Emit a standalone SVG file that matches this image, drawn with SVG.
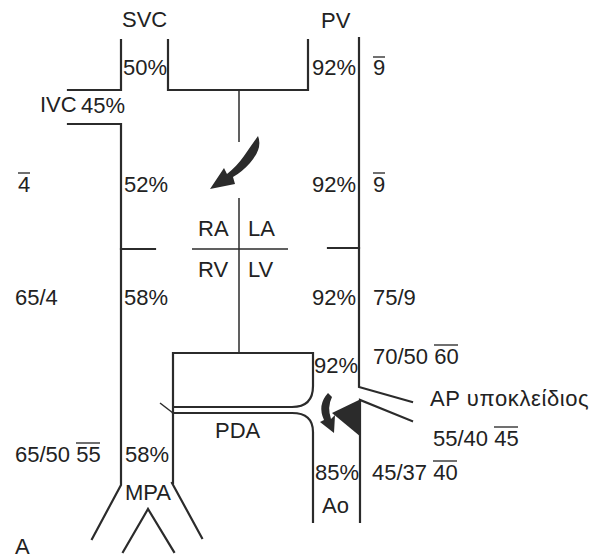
<svg xmlns="http://www.w3.org/2000/svg" width="592" height="558" viewBox="0 0 592 558">
<style>
.w{fill:none;stroke:#2b2b2b;stroke-width:2.2;stroke-linecap:square;stroke-linejoin:miter}
.t{fill:none;stroke:#2b2b2b;stroke-width:1.5}
text{font-family:"Liberation Sans",Arial,sans-serif;font-size:22px;fill:#222}
.ov{stroke:#222;stroke-width:1.3}
</style>
<rect width="592" height="558" fill="#fff"/>
<g id="connectors">
<path class="w" d="M121,40 V90 H68"/>
<path class="w" d="M68,124 H121 V485 L92,539"/>
<path class="w" d="M168,40 V90 H308 V40"/>
<path class="t" d="M239,90 V142"/>
<path class="t" d="M239,198 V352"/>
<path class="t" d="M192,249 H288"/>
<path class="w" d="M121,249 H155"/>
<path class="w" d="M328,248 H359"/>
<path class="w" d="M359,38 V387 L412,402"/>
<path class="w" d="M412,421 L360,400 V522"/>
<path fill="#2b2b2b" d="M332,413 L361,399 L361,437 Z"/>
<path class="w" d="M173,483 V353 H313 V386 Q313,407 292,407 H173"/>
<path class="w" d="M173,413 H292 Q313,413 313,432 V522"/>
<path class="t" d="M160,403 L173,413"/>
<path class="w" d="M172,483 L202,538"/>
<path class="w" d="M123,552 L148,509 L174,552"/>
<path fill="#2b2b2b" d="M258,136 Q263,148 250,163 Q242,172 233,177 L235,184 L210,189 L224,168 L227,174 Q237,166 244,156 Q251,146 258,136 Z"/>
<path fill="#2b2b2b" d="M328,393 Q317,405 324,420 L320,422 L334,433 L335,415 L331,419 Q327,407 332,397 Z"/>
</g>
<g id="labels">
<text x="122" y="27">SVC</text>
<text x="321" y="28">PV</text>
<text x="123" y="75">50%</text>
<text x="312" y="75">92%</text>
<text x="373" y="75">9</text><line class="ov" x1="373" y1="57" x2="385" y2="57"/>
<text x="40" y="112">IVC</text>
<text x="81" y="113">45%</text>
<text x="18" y="192">4</text><line class="ov" x1="18" y1="173" x2="30" y2="173"/>
<text x="124" y="192">52%</text>
<text x="312" y="192">92%</text>
<text x="373" y="192">9</text><line class="ov" x1="373" y1="173" x2="385" y2="173"/>
<text x="198" y="236">RA</text>
<text x="248" y="236">LA</text>
<text x="198" y="277">RV</text>
<text x="248" y="277">LV</text>
<text x="15" y="305">65/4</text>
<text x="124" y="305">58%</text>
<text x="312" y="305">92%</text>
<text x="373" y="305">75/9</text>
<text x="314" y="373">92%</text>
<text x="373" y="364">70/50 60</text><line class="ov" x1="434" y1="345" x2="458" y2="345"/>
<text x="430" y="406" letter-spacing="0.6">AP υποκλείδιος</text>
<text x="433" y="446">55/40 45</text><line class="ov" x1="494" y1="427" x2="518" y2="427"/>
<text x="215" y="438">PDA</text>
<text x="15" y="462">65/50 55</text><line class="ov" x1="76" y1="443" x2="100" y2="443"/>
<text x="125" y="462">58%</text>
<text x="125" y="500">MPA</text>
<text x="315" y="480">85%</text>
<text x="372" y="480">45/37 40</text><line class="ov" x1="433" y1="461" x2="457" y2="461"/>
<text x="322" y="513">Ao</text>
<text x="15" y="554">A</text>
</g>
</svg>
